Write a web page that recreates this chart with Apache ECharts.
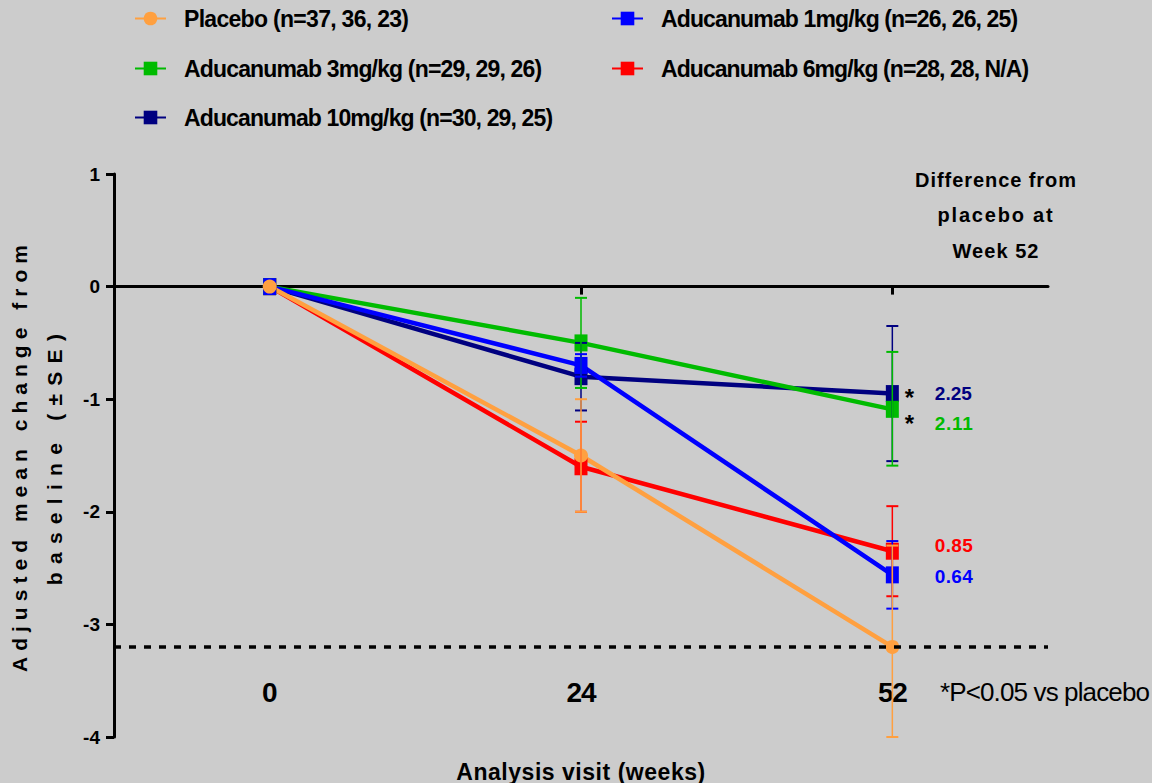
<!DOCTYPE html>
<html><head><meta charset="utf-8">
<script src="https://cdn.jsdelivr.net/npm/echarts@6/dist/echarts.min.js"></script>
<style>html,body{margin:0;padding:0;background:#cccccc}#main{width:1152px;height:783px}</style>
</head><body><div id="main"></div>
<script>
// ---------- data ----------
const weeks = ['0', '24', '52'];
const yTicks = [-4, -3, -2, -1, 0, 1];

const namePlacebo = 'Placebo (n=37, 36, 23)';
const nameDose1 = 'Aducanumab 1mg/kg (n=26, 26, 25)';
const nameDose3 = 'Aducanumab 3mg/kg (n=29, 29, 26)';
const nameDose6 = 'Aducanumab 6mg/kg (n=28, 28, N/A)';
const nameDose10 = 'Aducanumab 10mg/kg (n=30, 29, 25)';

const placeboMean = [0, -1.5, -3.2];
const placeboHigh = [null, -1.0, -2.3];
const placeboLow = [null, -2.0, -4.0];

const dose1Mean = [0, -0.7, -2.56];
const dose1High = [null, -0.6, -2.26];
const dose1Low = [null, -0.8, -2.86];

const dose3Mean = [0, -0.5, -1.09];
const dose3High = [null, -0.1, -0.58];
const dose3Low = [null, -0.9, -1.59];

const dose6Mean = [0, -1.6, -2.35];
const dose6High = [null, -1.2, -1.95];
const dose6Low = [null, -2.0, -2.75];

const dose10Mean = [0, -0.8, -0.95];
const dose10High = [null, -0.5, -0.35];
const dose10Low = [null, -1.1, -1.55];

// difference from placebo at week 52
const diffDose1 = '0.64', sigDose1 = false;
const diffDose3 = '2.11', sigDose3 = true;
const diffDose6 = '0.85', sigDose6 = false;
const diffDose10 = '2.25', sigDose10 = true;

const yAxisName = 'Adjusted mean change from\nbaseline (±SE)';
const xAxisName = 'Analysis visit (weeks)';
const diffTitle = 'Difference from\nplacebo at\nWeek 52';
const footnote = '*P<0.05 vs placebo';

// ---------- styling ----------
const FONT = "'Liberation Sans Narrow','Arial Narrow','Liberation Sans',Arial,sans-serif";
const groups = [
  {name: nameDose10, color: '#000080', mean: dose10Mean, hi: dose10High, lo: dose10Low, sym: 'rect', diff: diffDose10, sig: sigDose10, dy: 0, starAlign: 'bottom', numLH: 32},
  {name: nameDose6, color: '#FF0000', mean: dose6Mean, hi: dose6High, lo: dose6Low, sym: 'rect', diff: diffDose6, sig: sigDose6, dy: -6, starAlign: 'middle', numLH: 20},
  {name: nameDose3, color: '#00BB00', mean: dose3Mean, hi: dose3High, lo: dose3Low, sym: 'rect', diff: diffDose3, sig: sigDose3, dy: 14, starAlign: 'middle', numLH: 20},
  {name: nameDose1, color: '#0000FF', mean: dose1Mean, hi: dose1High, lo: dose1Low, sym: 'rect', diff: diffDose1, sig: sigDose1, dy: 2, starAlign: 'middle', numLH: 20},
  {name: namePlacebo, color: '#FFA040', mean: placeboMean, hi: placeboHigh, lo: placeboLow, sym: 'circle', diff: null}
];

const series = [];
// reference dotted line at placebo week-52 value
series.push({
  type: 'line', data: [], z: 1, silent: true, xAxisIndex: 0,
  markLine: {silent: true, symbol: ['none', 'none'], label: {show: false},
    lineStyle: {color: '#000', width: 3.5, type: [7, 8]},
    data: [{yAxis: placeboMean[2]}]}
});
groups.forEach(g => {
  const last = g.mean.length - 1;
  series.push({
    type: 'line', name: g.name, xAxisIndex: 0, z: 2,
    symbol: g.sym, symbolSize: g.sym === 'circle' ? 14 : [13, 17],
    lineStyle: {width: 4.5, color: g.color}, itemStyle: {color: g.color},
    emphasis: {disabled: true},
    data: g.mean.map((v, i) => {
      if (i === last && g.diff) {
        return {value: v, label: {
          show: true, position: 'right', distance: 6, offset: [0, g.dy],
          formatter: '{s|' + (g.sig ? '*' : ' ') + '}{v|' + g.diff + '}',
          rich: {
            s: {width: 30, fontSize: 24, lineHeight: 12, verticalAlign: g.starAlign, fontWeight: 'bold', fontFamily: FONT, color: '#000'},
            v: {fontSize: 19, lineHeight: g.numLH, verticalAlign: 'middle', fontWeight: 'bold', fontFamily: FONT, color: g.color}
          }
        }};
      }
      return v;
    })
  });
});
groups.forEach(g => {
  const pts = [];
  g.hi.forEach((h, i) => { if (h !== null) pts.push([i, h, g.lo[i]]); });
  series.push({
    type: 'custom', xAxisIndex: 0, z: 3, silent: true,
    encode: {x: 0, y: [1, 2]},
    data: pts,
    renderItem: (params, api) => {
      const c = api.value(0);
      const top = api.coord([c, api.value(1)]);
      const bot = api.coord([c, api.value(2)]);
      const hw = 6;
      const capStyle = {stroke: g.color, lineWidth: 2};
      return {type: 'group', children: [
        {type: 'line', shape: {x1: top[0], y1: top[1], x2: bot[0], y2: bot[1]}, style: {stroke: g.color, lineWidth: 1.5}},
        {type: 'line', shape: {x1: top[0] - hw, y1: top[1], x2: top[0] + hw, y2: top[1]}, style: capStyle},
        {type: 'line', shape: {x1: bot[0] - hw, y1: bot[1], x2: bot[0] + hw, y2: bot[1]}, style: capStyle}
      ]};
    }
  });
});

const legendNames = [namePlacebo, nameDose3, nameDose10, nameDose1, nameDose6];
const legendPos = [[134, 7], [134, 57], [134, 106], [611, 7], [611, 57]];
const legends = legendNames.map((n, i) => ({
  data: [n], left: legendPos[i][0], top: legendPos[i][1], orient: 'horizontal',
  itemWidth: 31, itemHeight: 17, selectedMode: false, padding: 0,
  textStyle: {fontFamily: FONT, fontWeight: 'bold', fontSize: 23, color: '#000', padding: [0, 0, 0, 13]}
}));

const chart = echarts.init(document.getElementById('main'), null, {renderer: 'svg'});
chart.setOption({
  animation: false,
  backgroundColor: '#cccccc',
  grid: {left: 114, right: 104, top: 174, bottom: 46, containLabel: false, outerBoundsMode: 'none'},
  legend: legends,
  xAxis: [
    {type: 'category', data: weeks, position: 'bottom', offset: -59, boundaryGap: true,
      axisLine: {show: false, onZero: false}, axisTick: {show: false}, splitLine: {show: false},
      axisLabel: {margin: 0, fontFamily: FONT, fontWeight: 'bold', fontSize: 28, color: '#000'},
      name: xAxisName, nameLocation: 'middle', nameGap: 82, nameMoveOverlap: false,
      nameTextStyle: {fontFamily: FONT, fontWeight: 'bold', fontSize: 23, color: '#000'}},
    {type: 'category', data: weeks, position: 'bottom', boundaryGap: true,
      axisLine: {show: true, onZero: true, lineStyle: {color: '#000', width: 3}},
      axisTick: {show: true, alignWithLabel: true, length: 8, lineStyle: {color: '#000', width: 3}},
      axisLabel: {show: false}, splitLine: {show: false}}
  ],
  yAxis: {
    type: 'value', min: yTicks[0], max: yTicks[yTicks.length - 1], interval: 1,
    axisLine: {show: true, onZero: false, lineStyle: {color: '#000', width: 3}},
    axisTick: {show: true, length: 8, lineStyle: {color: '#000', width: 3}},
    splitLine: {show: false},
    axisLabel: {margin: 14, fontFamily: FONT, fontWeight: 'bold', fontSize: 19, color: '#000'},
    name: yAxisName, nameLocation: 'middle', nameRotate: 90, nameGap: 42, nameMoveOverlap: false,
    nameTextStyle: {fontFamily: FONT, fontWeight: 'bold', fontSize: 21, lineHeight: 35, color: '#000', align: 'center'}
  },
  graphic: [
    {type: 'text', x: 996, y: 162, silent: true,
      style: {text: diffTitle, fill: '#000', fontFamily: FONT, fontWeight: 'bold', fontSize: 20,
        align: 'center', verticalAlign: 'top', lineHeight: 35.5}},
    {type: 'text', x: 940, y: 692, silent: true,
      style: {text: footnote, fill: '#000', fontFamily: FONT, fontSize: 26,
        align: 'left', verticalAlign: 'middle'}}
  ],
  series: series
});

// tracking (letter spacing) to match the reference's widely spaced type
const targetWidths = {};
targetWidths[namePlacebo] = 225;
targetWidths[nameDose3] = 358;
targetWidths[nameDose10] = 369;
targetWidths[nameDose1] = 357;
targetWidths[nameDose6] = 368;
targetWidths['Adjusted mean change from'] = 427;
targetWidths['baseline (±SE)'] = 251;
targetWidths[xAxisName] = 249;
targetWidths['24'] = 30;
targetWidths['52'] = 30;
targetWidths['Difference from'] = 161;
targetWidths['placebo at'] = 115;
targetWidths['Week 52'] = 86;
targetWidths['2.25'] = 37;
targetWidths['2.11'] = 38;
targetWidths['0.85'] = 38;
targetWidths['0.64'] = 38;
targetWidths[footnote] = 210;
function applySpacing() {
  document.querySelectorAll('#main svg text').forEach(t => {
    const s = t.textContent;
    const target = targetWidths[s];
    if (target == null) return;
    t.style.letterSpacing = '0px';
    const len = t.getComputedTextLength();
    const n = Math.max(1, s.length - 1);
    t.style.letterSpacing = ((target - len) / n).toFixed(2) + 'px';
  });
}
applySpacing();
chart.on('finished', applySpacing);
setTimeout(applySpacing, 30);
</script>
</body></html>
